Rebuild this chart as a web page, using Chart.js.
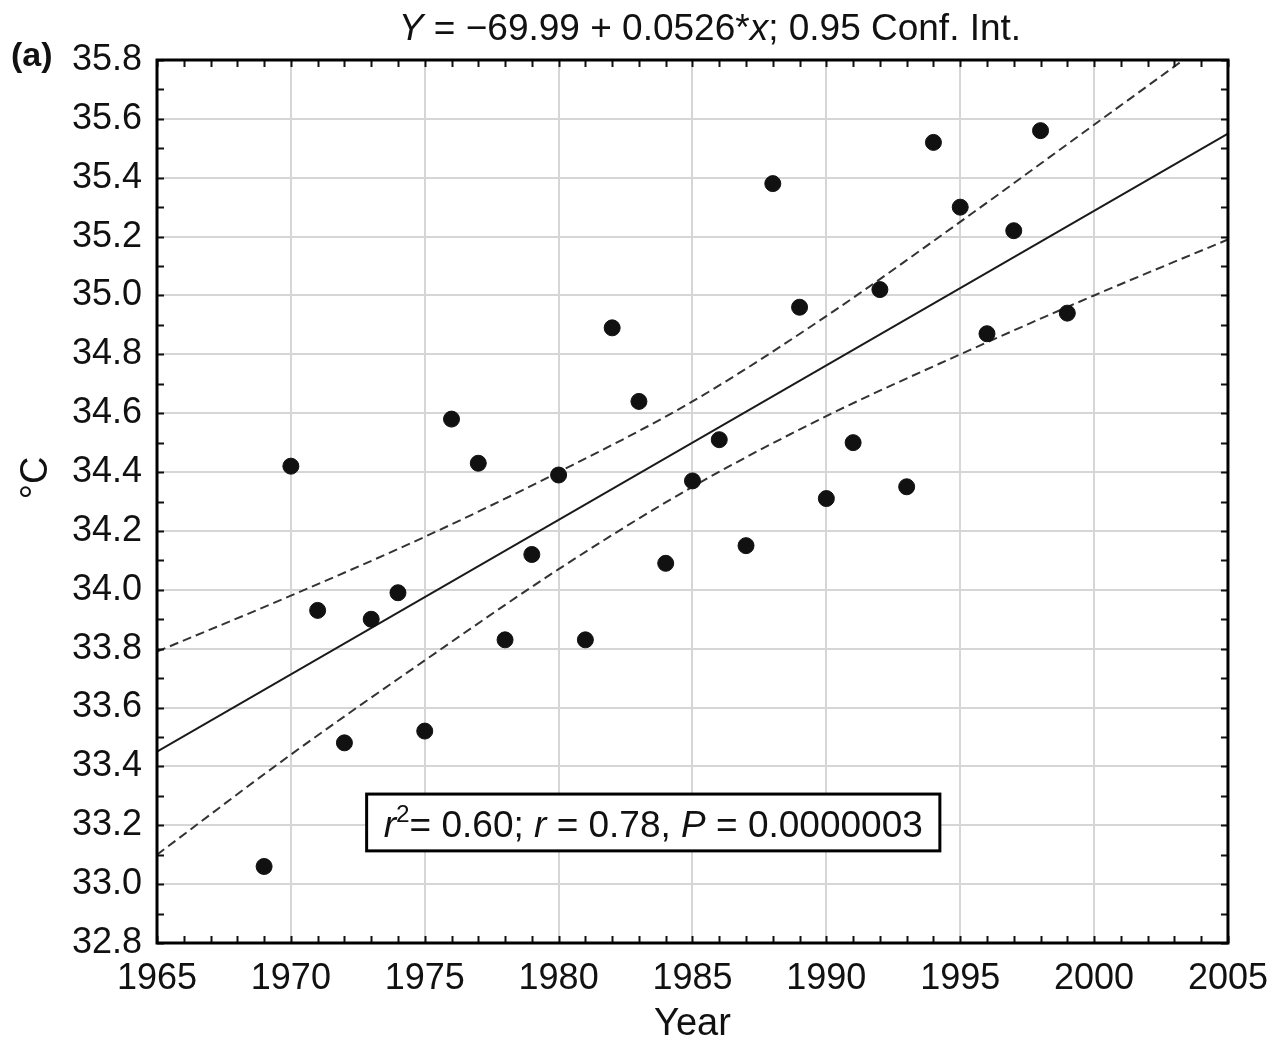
<!DOCTYPE html>
<html>
<head>
<meta charset="utf-8">
<script src="https://cdn.jsdelivr.net/npm/chart.js@4.4.1/dist/chart.umd.min.js"></script>
<style>
  html, body { margin: 0; padding: 0; background: #fff; }
  #wrap { width: 1282px; height: 1045px; }
</style>
</head>
<body>
<div id="wrap"><canvas id="trend" width="1282" height="1045"></canvas></div>
<script>
// yearly maximum temperature, degrees C
const years = [1969, 1970, 1971, 1972, 1973, 1974, 1975, 1976, 1977, 1978,
               1979, 1980, 1981, 1982, 1983, 1984, 1985, 1986, 1987, 1988,
               1989, 1990, 1991, 1992, 1993, 1994, 1995, 1996, 1997, 1998, 1999];
const tempValues = [33.06, 34.42, 33.93, 33.48, 33.90, 33.99, 33.52, 34.58, 34.43, 33.83,
                    34.12, 34.39, 33.83, 34.89, 34.64, 34.09, 34.37, 34.51, 34.15, 35.38,
                    34.96, 34.31, 34.50, 35.02, 34.35, 35.52, 35.30, 34.87, 35.22, 35.56, 34.94];

// fitted line and 0.95 confidence band
const fitYears = [1965, 2005];
const fitValues = [33.45, 35.55];
const bandYears = [1965, 1970, 1975, 1980, 1985, 1990, 1995, 2000, 2005];
const upperBand = [33.79, 33.98, 34.18, 34.40, 34.64, 34.93, 35.25, 35.58, 35.91];
const lowerBand = [33.10, 33.44, 33.76, 34.07, 34.35, 34.59, 34.80, 35.00, 35.19];

// axis ticks
const xTickValues = [1965, 1970, 1975, 1980, 1985, 1990, 1995, 2000, 2005];
const yTickValues = [32.8, 33.0, 33.2, 33.4, 33.6, 33.8, 34.0, 34.2, 34.4, 34.6, 34.8, 35.0, 35.2, 35.4, 35.6, 35.8];

const FONT = "'Liberation Sans', Arial, sans-serif";

function pairs(xs, ys) {
    return xs.map((x, i) => ({ x: x, y: ys[i] }));
}

// draw a run of text pieces, some in italics, starting at x
function drawPieces(ctx, pieces, x, y, size) {
    pieces.forEach(p => {
        const s = p.sup ? size * 0.66 : size;
        ctx.font = (p.italic ? 'italic ' : '') + s + 'px ' + FONT;
        ctx.fillText(p.t, x, p.sup ? y - size * 0.4 : y);
        x += ctx.measureText(p.t).width;
    });
    return x;
}

function piecesWidth(ctx, pieces, size) {
    let w = 0;
    pieces.forEach(p => {
        const s = p.sup ? size * 0.66 : size;
        ctx.font = (p.italic ? 'italic ' : '') + s + 'px ' + FONT;
        w += ctx.measureText(p.t).width;
    });
    return w;
}

const titlePieces = [
    { t: 'Y', italic: true },
    { t: ' = \u221269.99 + 0.0526*' },
    { t: 'x', italic: true },
    { t: '; 0.95 Conf. Int.' }
];

const statPieces = [
    { t: 'r', italic: true },
    { t: '2', sup: true },
    { t: '= 0.60; ' },
    { t: 'r', italic: true },
    { t: ' = 0.78, ' },
    { t: 'P', italic: true },
    { t: ' = 0.0000003' }
];

const decorations = {
    id: 'decorations',
    afterDatasetsDraw(chart) {
        const ctx = chart.ctx;
        const a = chart.chartArea;
        const xs = chart.scales.x, ys = chart.scales.y;
        ctx.save();

        // minor ticks pointing inwards on all four sides
        ctx.strokeStyle = '#111';
        ctx.lineWidth = 2;
        ctx.beginPath();
        for (let yr = 1965; yr <= 2005; yr++) {
            const px = Math.round(xs.getPixelForValue(yr)) + 0.5;
            ctx.moveTo(px, a.bottom); ctx.lineTo(px, a.bottom - 7);
            ctx.moveTo(px, a.top); ctx.lineTo(px, a.top + 7);
        }
        for (let k = 0; k <= 30; k++) {
            const py = Math.round(ys.getPixelForValue(32.8 + k * 0.1)) + 0.5;
            ctx.moveTo(a.left, py); ctx.lineTo(a.left + 7, py);
            ctx.moveTo(a.right, py); ctx.lineTo(a.right - 7, py);
        }
        ctx.stroke();

        // plot frame
        ctx.lineWidth = 3;
        ctx.strokeStyle = '#000';
        ctx.strokeRect(a.left, a.top, a.right - a.left, a.bottom - a.top);

        // statistics box
        const bx0 = xs.getPixelForValue(1972.83), bx1 = xs.getPixelForValue(1994.24);
        const by0 = ys.getPixelForValue(33.306), by1 = ys.getPixelForValue(33.113);
        ctx.fillStyle = '#fff';
        ctx.fillRect(bx0, by0, bx1 - bx0, by1 - by0);
        ctx.strokeRect(bx0, by0, bx1 - bx0, by1 - by0);
        ctx.fillStyle = '#111';
        ctx.textBaseline = 'alphabetic';
        ctx.textAlign = 'left';
        const sSize = 37;
        const sw = piecesWidth(ctx, statPieces, sSize);
        drawPieces(ctx, statPieces, (bx0 + bx1) / 2 - sw / 2, by1 - 14, sSize);

        // heading above the plot
        const tSize = 37;
        const tw = piecesWidth(ctx, titlePieces, tSize);
        drawPieces(ctx, titlePieces, 710 - tw / 2, 40, tSize);

        // panel letter
        ctx.font = 'bold 34px ' + FONT;
        ctx.fillText('(a)', 11, 66);

        // unit label on the value axis, reading upwards
        ctx.save();
        ctx.translate(47, 478);
        ctx.rotate(-Math.PI / 2);
        ctx.textAlign = 'center';
        ctx.font = '38px ' + FONT;
        ctx.fillText('\u00b0C', 0, 0);
        ctx.restore();

        ctx.restore();
    }
};

const ctx = document.getElementById('trend').getContext('2d');
const chart = new Chart(ctx, {
    type: 'scatter',
    data: {
        datasets: [{
            label: 'observed',
            data: pairs(years, tempValues),
            backgroundColor: '#111',
            borderColor: '#111',
            pointRadius: 8,
            pointHoverRadius: 8,
            order: 0
        }, {
            label: 'fit',
            data: pairs(fitYears, fitValues),
            showLine: true,
            borderColor: '#1a1a1a',
            borderWidth: 2,
            pointRadius: 0,
            order: 1
        }, {
            label: 'upper 0.95',
            data: pairs(bandYears, upperBand),
            showLine: true,
            borderColor: '#333',
            borderWidth: 2,
            borderDash: [9, 5],
            cubicInterpolationMode: 'monotone',
            pointRadius: 0,
            order: 2
        }, {
            label: 'lower 0.95',
            data: pairs(bandYears, lowerBand),
            showLine: true,
            borderColor: '#333',
            borderWidth: 2,
            borderDash: [9, 5],
            cubicInterpolationMode: 'monotone',
            pointRadius: 0,
            order: 3
        }]
    },
    options: {
        responsive: false,
        animation: false,
        devicePixelRatio: 1,
        layout: {
            padding: { top: 60, right: 54, bottom: 0, left: 0 }
        },
        plugins: {
            legend: { display: false },
            tooltip: { enabled: false },
            title: { display: false }
        },
        scales: {
            x: {
                type: 'linear',
                min: 1965,
                max: 2005,
                afterBuildTicks: scale => {
                    scale.ticks = xTickValues.map(v => ({ value: v }));
                },
                afterFit: scale => { scale.height = 102; },
                ticks: {
                    padding: 14,
                    color: '#111',
                    font: { family: FONT, size: 36 },
                    callback: v => String(v)
                },
                grid: { color: '#d6d6d6', lineWidth: 2, drawTicks: false },
                border: { display: false },
                title: {
                    display: true,
                    text: 'Year',
                    color: '#111',
                    font: { family: FONT, size: 38, lineHeight: 1 },
                    padding: { top: 0, bottom: 1 }
                }
            },
            y: {
                type: 'linear',
                min: 32.8,
                max: 35.8,
                afterBuildTicks: scale => {
                    scale.ticks = yTickValues.map(v => ({ value: v }));
                },
                afterFit: scale => { scale.width = 157; },
                ticks: {
                    padding: 15,
                    color: '#111',
                    font: { family: FONT, size: 36 },
                    callback: v => Number(v).toFixed(1)
                },
                grid: { color: '#d6d6d6', lineWidth: 2, drawTicks: false },
                border: { display: false },
                title: { display: false }
            }
        }
    },
    plugins: [decorations]
});
</script>
</body>
</html>
